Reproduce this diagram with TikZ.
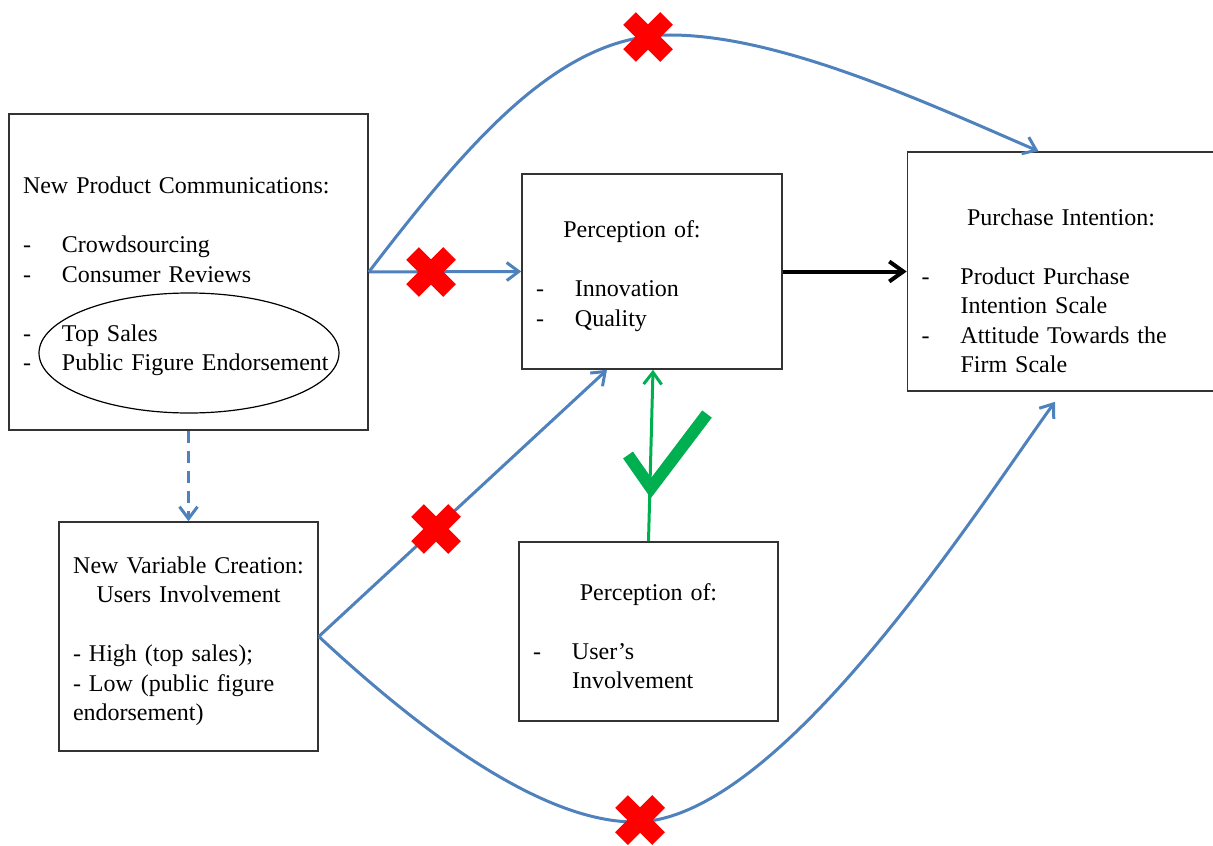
\documentclass[tikz,border=0pt]{standalone}
\usepackage{fontspec}
\setmainfont{Liberation Serif}
\usetikzlibrary{arrows.meta,shapes.geometric}
\definecolor{flowblue}{HTML}{4F81BD}
\definecolor{okgreen}{HTML}{00B050}
\definecolor{nored}{HTML}{FF0000}
\newcommand\itm[1]{\makebox[19.5pt][l]{-}#1}
\newcommand\ind{\hspace*{19.5pt}}
\newcommand\ctr[2]{\makebox[#1][c]{#2}}
\tikzset{
  box/.style={draw=black!80, line width=0.8pt, inner xsep=7pt, inner ysep=0pt, align=left, font=\fontsize{12}{14.75}\selectfont, execute at begin node={\rule{0pt}{13pt}}},
  flow/.style={flowblue, line width=1.5pt, -{Straight Barb[length=6pt,width=9pt]}},
  xbar/.style={nored, line width=9pt},
}
\begin{document}
\begin{tikzpicture}[x=0.5pt, y=-0.5pt]
\useasboundingbox (0,0) rectangle (1213,845);
% boxes
\node[box, text width=165.5pt, minimum height=158pt] (npc) at (188.5,272) {New Product Communications:\\ \mbox{}\\ \itm{Crowdsourcing}\\ \itm{Consumer Reviews}\\ \mbox{}\\ \itm{Top Sales}\\ \itm{Public Figure Endorsement}};
\node[draw, ellipse, line width=0.6pt, minimum width=150pt, minimum height=60pt, inner sep=0pt] (hl) at (189,353) {};
\node[box, text width=116pt, minimum height=97.5pt] (poq) at (652,271.5) {\ctr{116pt}{Perception of:\hspace{20pt}}\\ \mbox{}\\ \itm{Innovation}\\ \itm{Quality}};
\node[box, text width=139.5pt, minimum height=119.5pt] (pi) at (1061,271.5) {\mbox{}\\ \ctr{139.5pt}{Purchase Intention:}\\ \mbox{}\\ \itm{Product Purchase}\\ \ind Intention Scale\\ \itm{Attitude Towards the}\\ \ind Firm Scale};
\node[box, text width=115.5pt, minimum height=114.5pt] (nvc) at (188.5,636.5) {\ctr{115.5pt}{New Variable Creation:}\\ \ctr{115.5pt}{Users Involvement}\\ \mbox{}\\ - High (top sales);\\ - Low (public figure\\ endorsement)};
\node[box, text width=115.5pt, minimum height=89.5pt] (pui) at (648.5,631.5) {\ctr{115.5pt}{Perception of:}\\ \mbox{}\\ \itm{User’s}\\ \ind Involvement};

% connectors
\draw[flow] (npc.east) -- (poq.west);
\draw[flow] (npc.east) .. controls (470,140) and (560,35) .. (670,35) .. controls (780,35) and (927,103) .. ([xshift=-11.25pt]pi.north);
\draw[flow, dash pattern=on 6pt off 4pt] (npc.south) -- (nvc.north);
\draw[flow] (nvc.east) -- ([xshift=-22.5pt]poq.south);
\draw[flow] (nvc.east) .. controls (418,729) and (540,822) .. (635,822) .. controls (780,822) and (980,505) .. ([xshift=-3pt,yshift=-5pt]pi.south);
\draw[line width=2pt, -{Straight Barb[length=7pt,width=10pt]}] (poq.east) -- (pi.west);
\draw[okgreen, line width=1.5pt, -{Straight Barb[length=6pt,width=9pt]}] (pui.north) -- ([xshift=0.5pt]poq.south);

% marks
\foreach \p in {(431,272),(648,37),(436,529),(640,820)}{
  \draw[xbar] \p ++(-18.5,-18.5) -- ++(37,37);
  \draw[xbar] \p ++(-18.5,18.5) -- ++(37,-37);
}
\draw[okgreen, line width=6pt, miter limit=10] (628,455) -- (651,488) -- (707,414);
\end{tikzpicture}
\end{document}
